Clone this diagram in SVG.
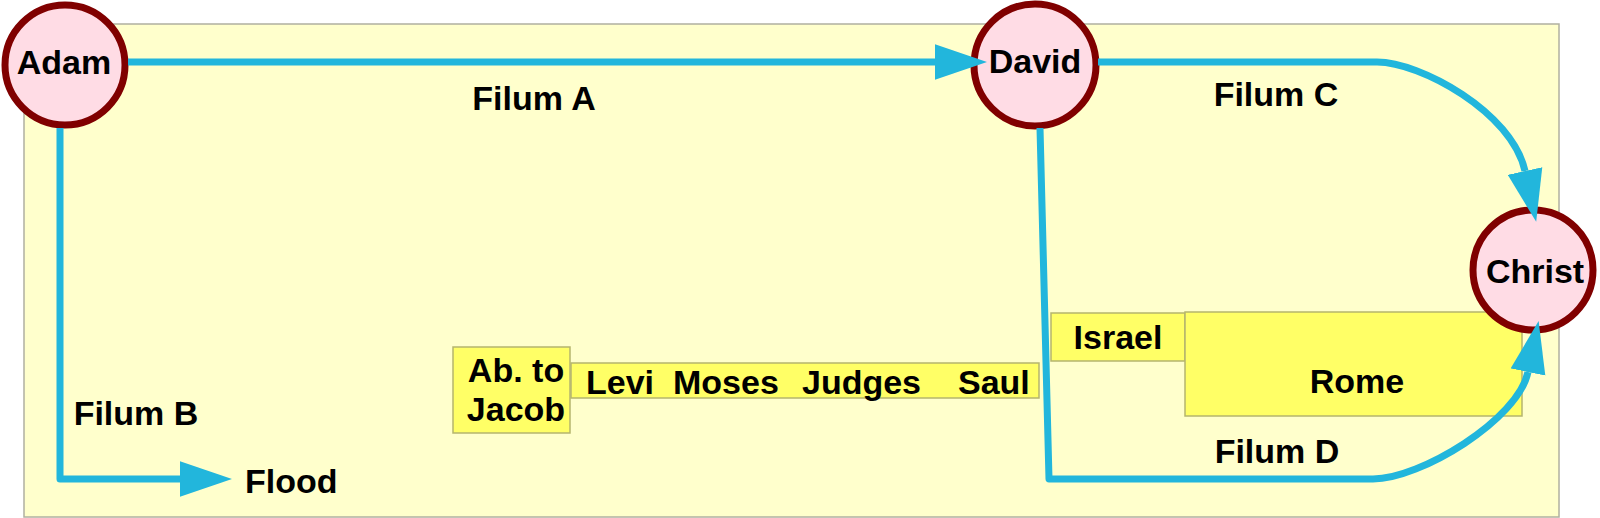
<svg xmlns="http://www.w3.org/2000/svg" width="1600" height="518" viewBox="0 0 1600 518">
<style>
.t{font-family:"Liberation Sans",Arial,sans-serif;font-weight:bold;font-size:34px;fill:#000}
.m{text-anchor:middle}
.node{fill:#FFDCE5;stroke:#800000;stroke-width:7}
.box{fill:#FFFF66;stroke:#B5B56E;stroke-width:1.5}
.ln{fill:none;stroke:#22B6DC;stroke-width:7;stroke-linejoin:round}
</style>
<defs>
<marker id="ah" markerUnits="userSpaceOnUse" markerWidth="52" markerHeight="36" viewBox="0 0 50 34" refX="0" refY="17" orient="auto">
<path d="M0,0 L50,17 L0,34 z" fill="#22B6DC"/>
</marker>
</defs>
<rect x="24" y="24" width="1535" height="493" fill="#FFFFCC" stroke="#B0B0A0" stroke-width="1.5"/>
<g id="abjacob"><rect class="box" x="453" y="347" width="117" height="86"/><text class="t m" x="516" y="382">Ab. to</text><text class="t m" x="516" y="421">Jacob</text></g>
<g id="levisaul"><rect class="box" x="571" y="363" width="468" height="35"/><text class="t" y="394"><tspan x="586">Levi</tspan><tspan x="673">Moses</tspan><tspan x="802">Judges</tspan><tspan x="958">Saul</tspan></text></g>
<g id="israel"><rect class="box" x="1051" y="313" width="134" height="48"/><text class="t m" x="1118" y="349">Israel</text></g>
<g id="rome"><rect class="box" x="1185" y="312" width="337" height="104"/><text class="t m" x="1357" y="393">Rome</text></g>
<g id="adam"><circle class="node" cx="65" cy="65" r="60"/><text class="t m" x="64" y="74">Adam</text></g>
<g id="david"><circle class="node" cx="1035" cy="65" r="61"/><text class="t m" x="1035" y="73">David</text></g>
<g id="christ"><circle class="node" cx="1533" cy="270" r="60"/><text class="t m" x="1535" y="283">Christ</text></g>
<g id="connectors">
<path class="ln" d="M128,62 L935,62" marker-end="url(#ah)"/>
<path class="ln" d="M60,128 L60,479 L180,479" marker-end="url(#ah)"/>
<path class="ln" d="M1098,62 L1377,62 C1420,62 1512,112 1525,171" marker-end="url(#ah)"/>
<path class="ln" d="M1040,128 L1049,479 L1373,479 C1420,479 1518,420 1528,372" marker-end="url(#ah)"/>
</g>
<g id="labels">
<text class="t m" x="534" y="110">Filum A</text>
<text class="t m" x="136" y="425">Filum B</text>
<text class="t" x="245" y="493">Flood</text>
<text class="t m" x="1276" y="106">Filum C</text>
<text class="t m" x="1277" y="463">Filum D</text>
</g>
</svg>
